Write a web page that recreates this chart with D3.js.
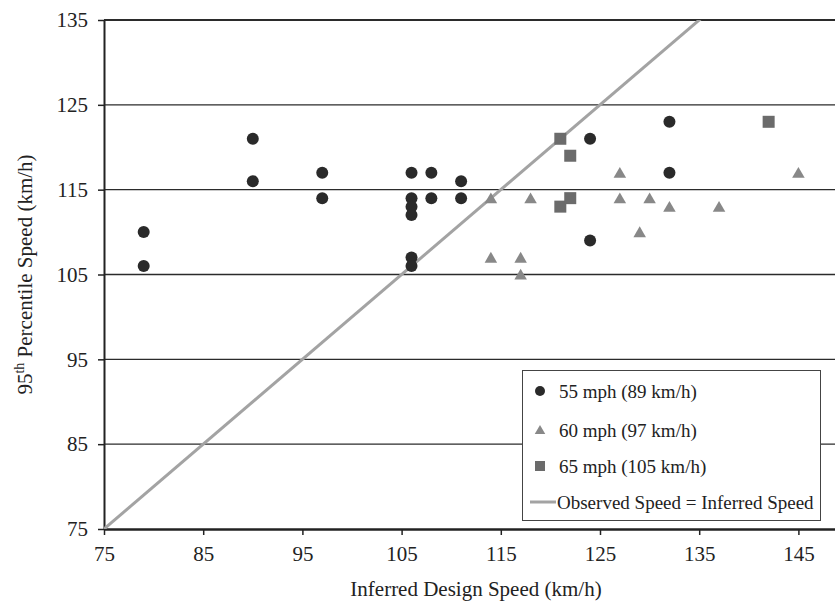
<!DOCTYPE html>
<html><head><meta charset="utf-8">
<script src="https://cdn.jsdelivr.net/npm/d3@7"></script>
<style>
html,body{margin:0;padding:0;background:#fff;}
svg{display:block;font-family:"Liberation Serif","Times New Roman",serif;}
svg text{font-family:"Liberation Serif","Times New Roman",serif;}
</style></head>
<body>
<svg id="chart" width="835" height="603"></svg>
<script>
// Data
const x55 = [79,79,90,90,97,97,106,106,106,106,106,106,108,108,111,111,124,124,132,132];
const y55 = [110,106,121,116,117,114,117,114,113,112,107,106,117,114,116,114,121,109,123,117];
const x60 = [114,114,117,117,118,127,127,129,130,132,137,145];
const y60 = [114,107,107,105,114,117,114,110,114,113,113,117];
const x65 = [121,121,122,122,142];
const y65 = [121,113,119,114,123];
const xTicks = [75,85,95,105,115,125,135,145];
const yTicks = [75,85,95,105,115,125,135];
const lineX = [75,150];
const legendLabels = ["55 mph (89 km/h)","60 mph (97 km/h)","65 mph (105 km/h)","Observed Speed = Inferred Speed"];

const svg = d3.select("#chart");
const L = 104, R = 848, T = 20, B = 529;
const x = d3.scaleLinear().domain([75,150]).range([L,R]);
const y = d3.scaleLinear().domain([75,135]).range([B,T]);

svg.append("defs").append("clipPath").attr("id","clip")
  .append("rect").attr("x",L).attr("y",T).attr("width",R-L).attr("height",B-T);

// gridlines
svg.append("g").selectAll("line").data(yTicks.filter(v=>v>75)).join("line")
  .attr("x1",L).attr("x2",R).attr("y1",d=>y(d)).attr("y2",d=>y(d))
  .attr("stroke","#2b2b2b").attr("stroke-width",d=>d===135?2:1.3);

// y axis
const yAxis = svg.append("g").attr("transform",`translate(${L},0)`)
  .call(d3.axisLeft(y).tickValues(yTicks).tickSize(6).tickPadding(10).tickSizeOuter(0));
yAxis.attr("font-family",null);
yAxis.select(".domain").attr("stroke","#222").attr("stroke-width",2);
yAxis.selectAll(".tick line").attr("stroke","#222").attr("stroke-width",1.5);
yAxis.selectAll("text").attr("font-size",21).attr("fill","#222");

// x axis
const xAxis = svg.append("g").attr("transform",`translate(0,${B})`)
  .call(d3.axisBottom(x).tickValues(xTicks).tickSize(6).tickPadding(11).tickSizeOuter(0));
xAxis.attr("font-family",null);
xAxis.select(".domain").attr("stroke","#222").attr("stroke-width",2.6);
xAxis.selectAll(".tick line").attr("stroke","#222").attr("stroke-width",1.5);
xAxis.selectAll("text").attr("font-size",21).attr("fill","#222");

// diagonal
svg.append("line").attr("clip-path","url(#clip)")
  .attr("x1",x(lineX[0])).attr("y1",y(lineX[0])).attr("x2",x(lineX[1])).attr("y2",y(lineX[1]))
  .attr("stroke","#a3a3a3").attr("stroke-width",3);

const c55 = "#2a2a2a", c60 = "#888888", c65 = "#6b6b6b";
// circles
svg.append("g").selectAll("circle").data(x55.map((d,i)=>[d,y55[i]])).join("circle")
  .attr("cx",d=>x(d[0])).attr("cy",d=>y(d[1])).attr("r",6).attr("fill",c55);
// triangles
const tri = d3.symbol().type(d3.symbolTriangle).size(68);
svg.append("g").selectAll("path").data(x60.map((d,i)=>[d,y60[i]])).join("path")
  .attr("d",tri).attr("transform",d=>`translate(${x(d[0])},${y(d[1])+1.5})`).attr("fill",c60);
// squares
svg.append("g").selectAll("rect").data(x65.map((d,i)=>[d,y65[i]])).join("rect")
  .attr("x",d=>x(d[0])-6).attr("y",d=>y(d[1])-6).attr("width",12).attr("height",12).attr("fill",c65);

// legend
const lg = svg.append("g");
lg.append("rect").attr("x",522.5).attr("y",370.5).attr("width",298).attr("height",150)
  .attr("fill","#fff").attr("stroke","#444").attr("stroke-width",1);
const ly = [391,430,466,502];
lg.append("circle").attr("cx",540).attr("cy",ly[0]).attr("r",5).attr("fill",c55);
lg.append("path").attr("d",d3.symbol().type(d3.symbolTriangle).size(48))
  .attr("transform",`translate(540,${ly[1]+1})`).attr("fill",c60);
lg.append("rect").attr("x",535).attr("y",ly[2]-5).attr("width",10).attr("height",10).attr("fill",c65);
lg.append("line").attr("x1",530).attr("x2",556).attr("y1",ly[3]).attr("y2",ly[3])
  .attr("stroke","#a3a3a3").attr("stroke-width",3);
lg.selectAll("text").data(legendLabels).join("text")
  .attr("x",d=>d.startsWith("Observed")?557:559).attr("y",(d,i)=>ly[i]+6.5)
  .attr("font-size",19).attr("fill","#222").text(d=>d);

// axis titles
svg.append("text").attr("x",(L+R)/2).attr("y",596).attr("text-anchor","middle")
  .attr("font-size",21).attr("fill","#222").text("Inferred Design Speed (km/h)");
const yt = svg.append("text").attr("transform",`translate(32,${(T+B)/2}) rotate(-90)`)
  .attr("text-anchor","middle").attr("font-size",21).attr("fill","#222");
yt.append("tspan").text("95");
yt.append("tspan").attr("font-size",14).attr("dy",-8).text("th");
yt.append("tspan").attr("dy",8).text(" Percentile Speed (km/h)");
</script>
</body></html>
